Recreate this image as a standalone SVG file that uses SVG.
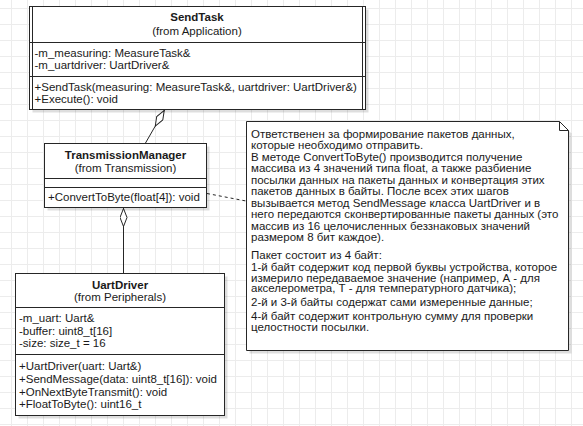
<svg xmlns="http://www.w3.org/2000/svg" width="583" height="426" viewBox="0 0 583 426">
<style>
.t{font-family:"Liberation Sans",Arial,sans-serif;font-size:11.5px;fill:#1a1a1a}
.b{font-weight:bold;text-anchor:middle}
.c{text-anchor:middle}
.box{fill:#fff;stroke:#262626;stroke-width:1}
.ln{fill:none;stroke:#262626;stroke-width:1}
.sh{fill:#000;opacity:0.13}
</style>
<defs>
<pattern id="grid" width="16" height="16" patternUnits="userSpaceOnUse" x="11" y="8">
<path d="M0 0.5H16M0.5 0V16" fill="none" stroke="#ececec" stroke-width="1"/>
</pattern>
<marker id="dia" viewBox="0 0 19 8" refX="0" refY="4" markerWidth="19" markerHeight="8" markerUnits="userSpaceOnUse" orient="auto">
<path d="M0.5 4L9.5 0.5L18.5 4L9.5 7.5Z" fill="#fff" stroke="#262626" stroke-width="1"/>
</marker>
</defs>
<rect width="583" height="426" fill="#fff"/>
<rect width="583" height="426" fill="url(#grid)"/>

<g id="connectors">
<path class="ln" d="M164.5 110L145.5 143" marker-start="url(#dia)"/>
<path class="ln" d="M123.5 208L123.5 273" marker-start="url(#dia)"/>
<path class="ln" d="M207 193.5L246 201" stroke-dasharray="3 3"/>
</g>

<g id="SendTask">
<rect class="sh" x="32.5" y="9.5" width="336" height="103"/>
<rect class="box" x="29.5" y="6.5" width="336" height="103"/>
<path class="ln" d="M32.5 6.5V109.5M362.5 6.5V109.5M29.5 42.5H365.5M29.5 76.5H365.5"/>
<text class="t b" x="197" y="21">SendTask</text>
<text class="t c" x="197" y="34.5">(from Application)</text>
<text class="t" x="34.5" y="56.5">-m_measuring: MeasureTask&amp;</text>
<text class="t" x="34.5" y="69">-m_uartdriver: UartDriver&amp;</text>
<text class="t" x="34.5" y="91">+SendTask(measuring: MeasureTask&amp;, uartdriver: UartDriver&amp;)</text>
<text class="t" x="34.5" y="103">+Execute(): void</text>
</g>

<g id="TransmissionManager">
<rect class="sh" x="47.5" y="146.5" width="162" height="64"/>
<rect class="box" x="44.5" y="143.5" width="162" height="64"/>
<path class="ln" d="M44.5 178.5H206.5M44.5 187.5H206.5"/>
<text class="t b" x="125.5" y="158.5">TransmissionManager</text>
<text class="t c" x="125.5" y="172">(from Transmission)</text>
<text class="t" x="48" y="201">+ConvertToByte(float[4]): void</text>
</g>

<g id="UartDriver">
<rect class="sh" x="18.5" y="276.5" width="209" height="142"/>
<rect class="box" x="15.5" y="273.5" width="209" height="142"/>
<path class="ln" d="M15.5 307.5H224.5M15.5 354.5H224.5"/>
<text class="t b" x="120" y="288.5">UartDriver</text>
<text class="t c" x="120" y="301">(from Peripherals)</text>
<text class="t" x="19" y="322">-m_uart: Uart&amp;</text>
<text class="t" x="19" y="334.5">-buffer: uint8_t[16]</text>
<text class="t" x="19" y="347">-size: size_t = 16</text>
<text class="t" x="19" y="370">+UartDriver(uart: Uart&amp;)</text>
<text class="t" x="19" y="383">+SendMessage(data: uint8_t[16]): void</text>
<text class="t" x="19" y="395.5">+OnNextByteTransmit(): void</text>
<text class="t" x="19" y="408">+FloatToByte(): uint16_t</text>
</g>

<g id="Note">
<path class="sh" d="M249.5 124.5H562.5L571.5 133.5V353.5H249.5Z"/>
<path class="box" d="M246.5 121.5H559.5L568.5 130.5V350.5H246.5Z"/>
<path class="ln" d="M559.5 121.5V130.5H568.5"/>
<text class="t" x="251" y="137.5">Ответственен за формирование пакетов данных,</text>
<text class="t" x="251" y="148.5">которые необходимо отправить.</text>
<text class="t" x="251" y="160.5">В методе ConvertToByte() производится получение</text>
<text class="t" x="251" y="172">массива из 4 значений типа float, а также разбиение</text>
<text class="t" x="251" y="183.5">посылки данных на пакеты данных и конвертация этих</text>
<text class="t" x="251" y="195">пакетов данных в байты. После всех этих шагов</text>
<text class="t" x="251" y="206.5">вызывается метод SendMessage класса UartDriver и в</text>
<text class="t" x="251" y="218">него передаются сконвертированные пакеты данных (это</text>
<text class="t" x="251" y="229.5">массив из 16 целочисленных беззнаковых значений</text>
<text class="t" x="251" y="241">размером 8 бит каждое).</text>
<text class="t" x="251" y="259">Пакет состоит из 4 байт:</text>
<text class="t" x="251" y="271">1-й байт содержит код первой буквы устройства, которое</text>
<text class="t" x="251" y="281.5">измерило передаваемое значение (например, А - для</text>
<text class="t" x="251" y="292">акселерометра, Т - для температурного датчика);</text>
<text class="t" x="251" y="306">2-й и 3-й байты содержат сами измеренные данные;</text>
<text class="t" x="251" y="319.5">4-й байт содержит контрольную сумму для проверки</text>
<text class="t" x="251" y="330.5">целостности посылки.</text>
</g>
</svg>
